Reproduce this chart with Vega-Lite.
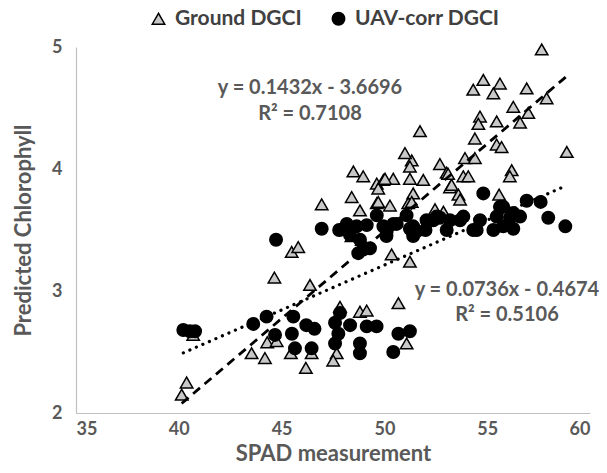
{
  "$schema": "https://vega.github.io/schema/vega-lite/v6.json",
  "width": 514,
  "height": 366,
  "autosize": {"type": "none"},
  "padding": {"left": 76, "top": 47, "right": 17, "bottom": 60},
  "config": {
    "view": {"stroke": null},
    "font": "Lato",
    "axis": {
      "grid": false,
      "ticks": false,
      "domainColor": "#bfbfbf",
      "domainWidth": 1.2,
      "labelColor": "#595959",
      "labelFontWeight": "bold",
      "labelFontSize": 18,
      "labelFont": "Lato",
      "titleColor": "#595959",
      "titleFontWeight": "bold",
      "titleFontSize": 22,
      "titleFont": "Lato"
    }
  },
  "datasets": {
    "pts": [
      {"series": "Ground DGCI", "spad": 40.14, "chl": 2.15},
      {"series": "Ground DGCI", "spad": 40.38, "chl": 2.25},
      {"series": "Ground DGCI", "spad": 40.70, "chl": 2.64},
      {"series": "Ground DGCI", "spad": 43.54, "chl": 2.49},
      {"series": "Ground DGCI", "spad": 44.19, "chl": 2.45},
      {"series": "Ground DGCI", "spad": 44.30, "chl": 2.58},
      {"series": "Ground DGCI", "spad": 44.76, "chl": 2.59},
      {"series": "Ground DGCI", "spad": 45.45, "chl": 2.49},
      {"series": "Ground DGCI", "spad": 46.18, "chl": 2.37},
      {"series": "Ground DGCI", "spad": 46.46, "chl": 2.49},
      {"series": "Ground DGCI", "spad": 44.65, "chl": 3.11},
      {"series": "Ground DGCI", "spad": 46.38, "chl": 3.05},
      {"series": "Ground DGCI", "spad": 45.49, "chl": 3.32},
      {"series": "Ground DGCI", "spad": 45.81, "chl": 3.36},
      {"series": "Ground DGCI", "spad": 46.95, "chl": 3.71},
      {"series": "Ground DGCI", "spad": 47.84, "chl": 2.87},
      {"series": "Ground DGCI", "spad": 47.68, "chl": 2.49},
      {"series": "Ground DGCI", "spad": 47.51, "chl": 2.43},
      {"series": "Ground DGCI", "spad": 48.81, "chl": 2.83},
      {"series": "Ground DGCI", "spad": 49.14, "chl": 2.84},
      {"series": "Ground DGCI", "spad": 50.68, "chl": 2.90},
      {"series": "Ground DGCI", "spad": 51.08, "chl": 2.57},
      {"series": "Ground DGCI", "spad": 50.35, "chl": 3.30},
      {"series": "Ground DGCI", "spad": 51.24, "chl": 3.24},
      {"series": "Ground DGCI", "spad": 48.49, "chl": 3.98},
      {"series": "Ground DGCI", "spad": 48.97, "chl": 3.94},
      {"series": "Ground DGCI", "spad": 49.63, "chl": 3.88},
      {"series": "Ground DGCI", "spad": 49.95, "chl": 3.91},
      {"series": "Ground DGCI", "spad": 50.43, "chl": 3.92},
      {"series": "Ground DGCI", "spad": 49.70, "chl": 3.84},
      {"series": "Ground DGCI", "spad": 51.33, "chl": 4.07},
      {"series": "Ground DGCI", "spad": 51.24, "chl": 3.92},
      {"series": "Ground DGCI", "spad": 51.89, "chl": 3.91},
      {"series": "Ground DGCI", "spad": 51.40, "chl": 3.80},
      {"series": "Ground DGCI", "spad": 52.70, "chl": 4.04},
      {"series": "Ground DGCI", "spad": 53.03, "chl": 3.97},
      {"series": "Ground DGCI", "spad": 48.41, "chl": 3.77},
      {"series": "Ground DGCI", "spad": 48.81, "chl": 3.66},
      {"series": "Ground DGCI", "spad": 49.63, "chl": 3.72},
      {"series": "Ground DGCI", "spad": 50.27, "chl": 3.70},
      {"series": "Ground DGCI", "spad": 51.16, "chl": 3.72},
      {"series": "Ground DGCI", "spad": 52.46, "chl": 3.67},
      {"series": "Ground DGCI", "spad": 57.65, "chl": 4.98},
      {"series": "Ground DGCI", "spad": 54.81, "chl": 4.73},
      {"series": "Ground DGCI", "spad": 55.62, "chl": 4.70},
      {"series": "Ground DGCI", "spad": 54.32, "chl": 4.65},
      {"series": "Ground DGCI", "spad": 55.30, "chl": 4.62},
      {"series": "Ground DGCI", "spad": 56.92, "chl": 4.66},
      {"series": "Ground DGCI", "spad": 57.89, "chl": 4.58},
      {"series": "Ground DGCI", "spad": 56.27, "chl": 4.51},
      {"series": "Ground DGCI", "spad": 57.00, "chl": 4.46},
      {"series": "Ground DGCI", "spad": 56.60, "chl": 4.38},
      {"series": "Ground DGCI", "spad": 54.65, "chl": 4.43},
      {"series": "Ground DGCI", "spad": 54.57, "chl": 4.37},
      {"series": "Ground DGCI", "spad": 55.46, "chl": 4.39},
      {"series": "Ground DGCI", "spad": 54.40, "chl": 4.25},
      {"series": "Ground DGCI", "spad": 55.46, "chl": 4.20},
      {"series": "Ground DGCI", "spad": 55.70, "chl": 4.18},
      {"series": "Ground DGCI", "spad": 58.87, "chl": 4.14},
      {"series": "Ground DGCI", "spad": 51.73, "chl": 4.31},
      {"series": "Ground DGCI", "spad": 53.92, "chl": 4.09},
      {"series": "Ground DGCI", "spad": 54.40, "chl": 4.09},
      {"series": "Ground DGCI", "spad": 51.00, "chl": 4.13},
      {"series": "Ground DGCI", "spad": 51.24, "chl": 4.02},
      {"series": "Ground DGCI", "spad": 53.84, "chl": 3.94},
      {"series": "Ground DGCI", "spad": 54.08, "chl": 3.94},
      {"series": "Ground DGCI", "spad": 53.19, "chl": 3.85},
      {"series": "Ground DGCI", "spad": 53.60, "chl": 3.79},
      {"series": "Ground DGCI", "spad": 53.68, "chl": 3.75},
      {"series": "Ground DGCI", "spad": 55.58, "chl": 3.79},
      {"series": "Ground DGCI", "spad": 49.70, "chl": 3.73},
      {"series": "Ground DGCI", "spad": 51.33, "chl": 3.73},
      {"series": "Ground DGCI", "spad": 52.87, "chl": 3.65},
      {"series": "Ground DGCI", "spad": 56.19, "chl": 3.99},
      {"series": "Ground DGCI", "spad": 56.10, "chl": 3.94},
      {"series": "Ground DGCI", "spad": 48.17, "chl": 3.50},
      {"series": "Ground DGCI", "spad": 50.03, "chl": 3.92},
      {"series": "Ground DGCI", "spad": 53.27, "chl": 3.87},
      {"series": "Ground DGCI", "spad": 53.10, "chl": 3.96},
      {"series": "Ground DGCI", "spad": 48.40, "chl": 3.45},
      {"series": "Ground DGCI", "spad": 48.90, "chl": 3.42},
      {"series": "UAV-corr DGCI", "spad": 40.22, "chl": 2.68},
      {"series": "UAV-corr DGCI", "spad": 40.54, "chl": 2.67},
      {"series": "UAV-corr DGCI", "spad": 40.79, "chl": 2.67},
      {"series": "UAV-corr DGCI", "spad": 43.62, "chl": 2.73},
      {"series": "UAV-corr DGCI", "spad": 44.27, "chl": 2.79},
      {"series": "UAV-corr DGCI", "spad": 44.68, "chl": 2.64},
      {"series": "UAV-corr DGCI", "spad": 45.57, "chl": 2.79},
      {"series": "UAV-corr DGCI", "spad": 46.20, "chl": 2.72},
      {"series": "UAV-corr DGCI", "spad": 45.50, "chl": 2.65},
      {"series": "UAV-corr DGCI", "spad": 45.65, "chl": 2.53},
      {"series": "UAV-corr DGCI", "spad": 46.46, "chl": 2.53},
      {"series": "UAV-corr DGCI", "spad": 46.60, "chl": 2.69},
      {"series": "UAV-corr DGCI", "spad": 44.73, "chl": 3.42},
      {"series": "UAV-corr DGCI", "spad": 46.95, "chl": 3.51},
      {"series": "UAV-corr DGCI", "spad": 47.84, "chl": 2.82},
      {"series": "UAV-corr DGCI", "spad": 47.60, "chl": 2.74},
      {"series": "UAV-corr DGCI", "spad": 47.76, "chl": 2.65},
      {"series": "UAV-corr DGCI", "spad": 47.60, "chl": 2.57},
      {"series": "UAV-corr DGCI", "spad": 48.33, "chl": 2.72},
      {"series": "UAV-corr DGCI", "spad": 49.14, "chl": 2.71},
      {"series": "UAV-corr DGCI", "spad": 49.62, "chl": 2.71},
      {"series": "UAV-corr DGCI", "spad": 48.81, "chl": 2.57},
      {"series": "UAV-corr DGCI", "spad": 48.81, "chl": 2.49},
      {"series": "UAV-corr DGCI", "spad": 50.68, "chl": 2.65},
      {"series": "UAV-corr DGCI", "spad": 51.24, "chl": 2.67},
      {"series": "UAV-corr DGCI", "spad": 50.43, "chl": 2.50},
      {"series": "UAV-corr DGCI", "spad": 48.17, "chl": 3.55},
      {"series": "UAV-corr DGCI", "spad": 48.65, "chl": 3.53},
      {"series": "UAV-corr DGCI", "spad": 49.14, "chl": 3.54},
      {"series": "UAV-corr DGCI", "spad": 48.81, "chl": 3.42},
      {"series": "UAV-corr DGCI", "spad": 49.30, "chl": 3.35},
      {"series": "UAV-corr DGCI", "spad": 48.73, "chl": 3.31},
      {"series": "UAV-corr DGCI", "spad": 49.95, "chl": 3.53},
      {"series": "UAV-corr DGCI", "spad": 50.43, "chl": 3.55},
      {"series": "UAV-corr DGCI", "spad": 50.10, "chl": 3.45},
      {"series": "UAV-corr DGCI", "spad": 51.08, "chl": 3.62},
      {"series": "UAV-corr DGCI", "spad": 51.40, "chl": 3.53},
      {"series": "UAV-corr DGCI", "spad": 51.40, "chl": 3.45},
      {"series": "UAV-corr DGCI", "spad": 52.05, "chl": 3.58},
      {"series": "UAV-corr DGCI", "spad": 52.70, "chl": 3.60},
      {"series": "UAV-corr DGCI", "spad": 53.03, "chl": 3.50},
      {"series": "UAV-corr DGCI", "spad": 49.63, "chl": 3.62},
      {"series": "UAV-corr DGCI", "spad": 48.33, "chl": 3.46},
      {"series": "UAV-corr DGCI", "spad": 50.60, "chl": 3.55},
      {"series": "UAV-corr DGCI", "spad": 51.57, "chl": 3.49},
      {"series": "UAV-corr DGCI", "spad": 52.38, "chl": 3.58},
      {"series": "UAV-corr DGCI", "spad": 53.19, "chl": 3.58},
      {"series": "UAV-corr DGCI", "spad": 53.84, "chl": 3.61},
      {"series": "UAV-corr DGCI", "spad": 54.65, "chl": 3.58},
      {"series": "UAV-corr DGCI", "spad": 55.46, "chl": 3.61},
      {"series": "UAV-corr DGCI", "spad": 56.11, "chl": 3.60},
      {"series": "UAV-corr DGCI", "spad": 56.60, "chl": 3.61},
      {"series": "UAV-corr DGCI", "spad": 54.32, "chl": 3.50},
      {"series": "UAV-corr DGCI", "spad": 55.30, "chl": 3.50},
      {"series": "UAV-corr DGCI", "spad": 55.78, "chl": 3.53},
      {"series": "UAV-corr DGCI", "spad": 56.27, "chl": 3.51},
      {"series": "UAV-corr DGCI", "spad": 55.62, "chl": 3.69},
      {"series": "UAV-corr DGCI", "spad": 54.81, "chl": 3.80},
      {"series": "UAV-corr DGCI", "spad": 56.92, "chl": 3.74},
      {"series": "UAV-corr DGCI", "spad": 57.60, "chl": 3.73},
      {"series": "UAV-corr DGCI", "spad": 57.97, "chl": 3.60},
      {"series": "UAV-corr DGCI", "spad": 58.80, "chl": 3.53},
      {"series": "UAV-corr DGCI", "spad": 53.68, "chl": 3.58},
      {"series": "UAV-corr DGCI", "spad": 54.49, "chl": 3.50},
      {"series": "UAV-corr DGCI", "spad": 51.24, "chl": 3.51},
      {"series": "UAV-corr DGCI", "spad": 52.54, "chl": 3.61},
      {"series": "UAV-corr DGCI", "spad": 50.11, "chl": 3.49},
      {"series": "UAV-corr DGCI", "spad": 48.97, "chl": 3.34},
      {"series": "UAV-corr DGCI", "spad": 56.27, "chl": 3.64},
      {"series": "UAV-corr DGCI", "spad": 55.78, "chl": 3.69},
      {"series": "UAV-corr DGCI", "spad": 47.80, "chl": 3.50},
      {"series": "UAV-corr DGCI", "spad": 52.00, "chl": 3.50}
    ],
    "gline": [
      {"spad": 40.14, "chl": 2.078},
      {"spad": 58.87, "chl": 4.761}
    ],
    "uline": [
      {"spad": 40.22, "chl": 2.493},
      {"spad": 58.80, "chl": 3.860}
    ],
    "notes": [
      {"label": "y = 0.1432x - 3.6696", "spad": 46.38, "chl": 4.66},
      {"label": "R² = 0.7108", "spad": 46.38, "chl": 4.45},
      {"label": "y = 0.0736x - 0.4674", "spad": 55.96, "chl": 3.01},
      {"label": "R² = 0.5106", "spad": 55.96, "chl": 2.80}
    ]
  },
  "layer": [
    {
      "data": {"name": "pts"},
      "mark": {"type": "point", "filled": true, "opacity": 1, "strokeWidth": 1.5, "size": 155},
      "encoding": {
        "x": {
          "field": "spad", "type": "quantitative",
          "scale": {"domain": [35, 60], "nice": false, "zero": false},
          "axis": {"values": [35, 40, 45, 50, 55, 60], "title": "SPAD measurement", "labelPadding": 7, "titlePadding": 5}
        },
        "y": {
          "field": "chl", "type": "quantitative",
          "scale": {"domain": [2, 5], "nice": false, "zero": false},
          "axis": {"values": [2, 3, 4, 5], "format": "d", "title": "Predicted Chlorophyll", "labelPadding": 14, "titlePadding": 16}
        },
        "shape": {
          "field": "series", "type": "nominal",
          "scale": {"domain": ["Ground DGCI", "UAV-corr DGCI"], "range": ["triangle-up", "circle"]},
          "legend": {
            "orient": "none", "legendX": 72, "legendY": -39, "direction": "horizontal",
            "title": null, "labelFontSize": 21, "labelFontWeight": "bold", "labelColor": "#404040",
            "labelFont": "Lato", "symbolSize": 155, "symbolStrokeWidth": 1.5, "columnPadding": 26, "labelOffset": 6
          }
        },
        "fill": {
          "field": "series", "type": "nominal",
          "scale": {"domain": ["Ground DGCI", "UAV-corr DGCI"], "range": ["#c8c8c8", "#000000"]}
        },
        "stroke": {
          "field": "series", "type": "nominal",
          "scale": {"domain": ["Ground DGCI", "UAV-corr DGCI"], "range": ["#000000", "#000000"]}
        }
      }
    },
    {
      "data": {"name": "gline"},
      "mark": {"type": "line", "color": "#000000", "strokeWidth": 2.8, "strokeDash": [9, 6]},
      "encoding": {
        "x": {"field": "spad", "type": "quantitative"},
        "y": {"field": "chl", "type": "quantitative"}
      }
    },
    {
      "data": {"name": "uline"},
      "mark": {"type": "line", "color": "#000000", "strokeWidth": 3.2, "strokeDash": [0.1, 7], "strokeCap": "round"},
      "encoding": {
        "x": {"field": "spad", "type": "quantitative"},
        "y": {"field": "chl", "type": "quantitative"}
      }
    },
    {
      "data": {"name": "notes"},
      "mark": {"type": "text", "font": "Lato", "fontWeight": "bold", "fontSize": 20, "color": "#595959", "align": "center", "baseline": "middle"},
      "encoding": {
        "x": {"field": "spad", "type": "quantitative"},
        "y": {"field": "chl", "type": "quantitative"},
        "text": {"field": "label"}
      }
    }
  ]
}
